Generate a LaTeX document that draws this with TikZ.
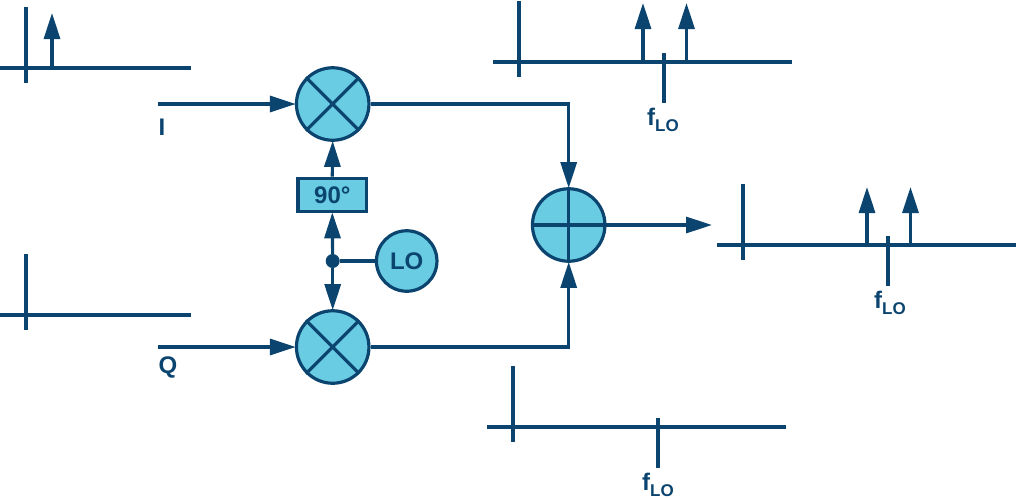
\documentclass[tikz,border=0pt]{standalone}
\usepackage{fontspec}
\setmainfont{Liberation Sans}[BoldFont={Liberation Sans Bold}]
\usetikzlibrary{arrows.meta,calc}
\definecolor{navy}{HTML}{0B446F}
\definecolor{cyanfill}{HTML}{69CCE2}
\tikzset{
  wire/.style={draw=navy,line width=3.2pt},
  arr/.style={wire,-{Triangle[length=26pt,width=16pt]},shorten >=-1pt},
  disc/.style={circle,draw=navy,fill=cyanfill,line width=3.2pt,inner sep=0pt,minimum size=#1},
  mixer/.style={disc=72.5pt},
  txt/.style={text=navy,font=\bfseries\fontsize{24}{26}\selectfont,inner sep=0pt},
  flo/.style={txt},
  pt/.style={inner sep=0pt,minimum size=0pt,outer sep=0pt}
}
\newcommand{\fLO}{f\raisebox{-5.5pt}{\fontsize{17}{19}\selectfont LO}}
\begin{document}
\begin{tikzpicture}[x=1pt,y=-1pt]
\useasboundingbox (0,0) rectangle (1017,498);
% nodes
\node[mixer] (m1) at (332.7,104) {};
\node[mixer] (m2) at (332.7,347) {};
\node[mixer] (s) at (568.7,225) {};
\node[disc=60.5pt,txt] (lo) at (406.7,261) {LO};
\node[draw=navy,fill=cyanfill,line width=3.2pt,minimum width=68.5pt,minimum height=33.5pt,inner sep=0pt,txt] (ph) at (332.3,195) {90°};
\node[circle,fill=navy,inner sep=0pt,minimum size=14pt] (dot) at (332.7,261) {};
% mixer crosses
\foreach \n in {m1,m2}{
  \draw[wire] (\n.north west) -- (\n.south east);
  \draw[wire] (\n.north east) -- (\n.south west);
}
\draw[wire] (s.north) -- (s.south);
\draw[wire] (s.west) -- (s.east);
% inputs
\coordinate (iin) at (158,104);
\coordinate (qin) at (158,347);
\coordinate (out) at (711,225);
\coordinate (c1) at (568.7,104);
\coordinate (c2) at (568.7,347);
\draw[arr] (iin) -- (m1.west);
\draw[arr] (qin) -- (m2.west);
\draw[arr] (s.east) -- (out);
\draw[arr] (m1.east) -- (c1) -- (s.north);
\draw[arr] (m2.east) -- (c2) -- (s.south);
\draw[arr] (ph.north) -- (m1.south);
\draw[arr] (dot) -- (ph.south);
\draw[arr] (dot) -- (m2.north);
\draw[wire] (dot) -- (lo.west);
\node[txt] (ilab) at (162,127) {I};
\node[txt] (qlab) at (168,367.5) {Q};
% spectrum: top-left
\draw[wire] (0,68) -- (191,68);
\draw[wire] (26,7) -- (26,83);
\coordinate (a0) at (52,68); \coordinate (a1) at (52,14);
\draw[arr] (a0) -- (a1);
% spectrum: lower-left
\draw[wire] (0,315) -- (191,315);
\draw[wire] (26,254) -- (26,330);
% spectrum: top-middle
\draw[wire] (493,62) -- (792,62);
\draw[wire] (519,1) -- (519,77);
\coordinate (b0) at (643,62); \coordinate (b1) at (643,4);
\coordinate (b2) at (686.5,62); \coordinate (b3) at (686.5,4);
\draw[arr] (b0) -- (b1);
\draw[arr] (b2) -- (b3);
\draw[wire] (664,53) -- (664,103);
\node[flo] (f1) at (663,120) {\fLO};
% spectrum: right
\draw[wire] (717,245) -- (1016,245);
\draw[wire] (743,184) -- (743,260);
\coordinate (d0) at (867,245); \coordinate (d1) at (867,188);
\coordinate (d2) at (910.5,245); \coordinate (d3) at (910.5,188);
\draw[arr] (d0) -- (d1);
\draw[arr] (d2) -- (d3);
\draw[wire] (888,236) -- (888,286);
\node[flo] (f2) at (890,303) {\fLO};
% spectrum: bottom
\draw[wire] (487,427) -- (786,427);
\draw[wire] (513,366) -- (513,442);
\draw[wire] (658,418) -- (658,468);
\node[flo] (f3) at (658,485) {\fLO};
\end{tikzpicture}
\end{document}
